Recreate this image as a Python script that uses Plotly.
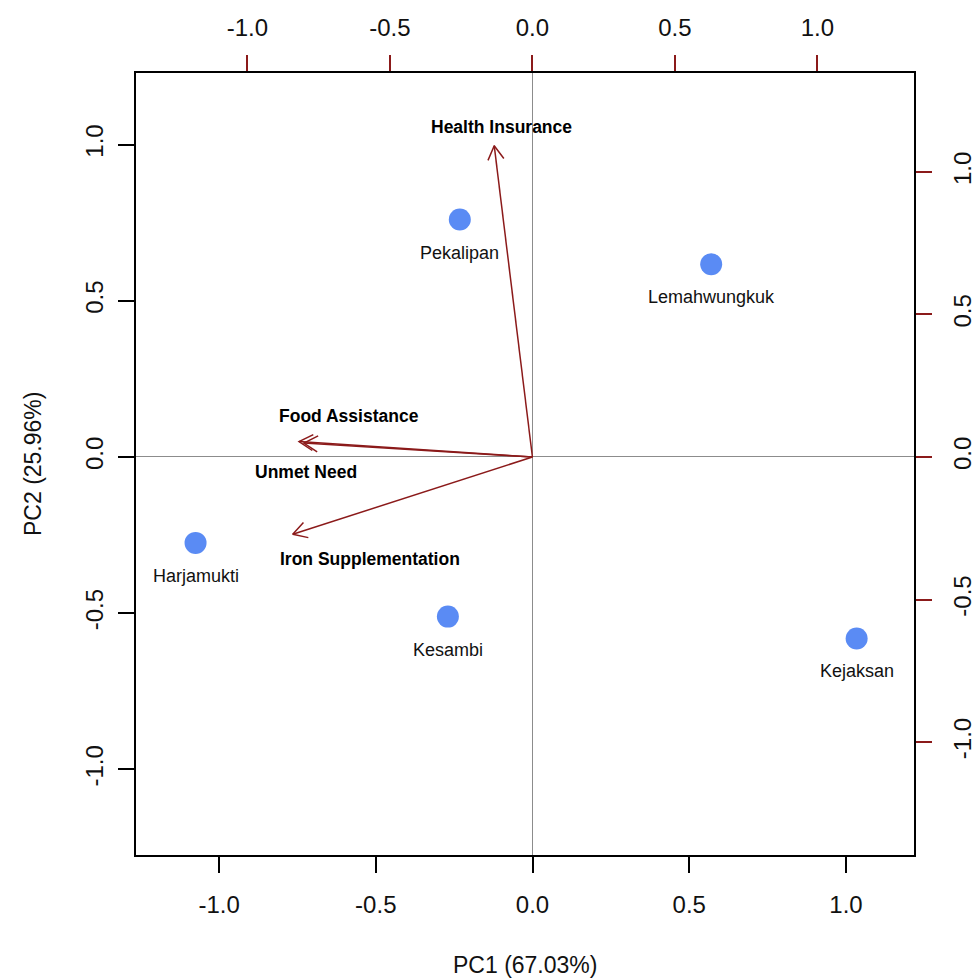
import math
import plotly.graph_objects as go

# Observation scores (PC1, PC2) - primary axes (bottom/left)
districts = ["Pekalipan", "Lemahwungkuk", "Harjamukti", "Kesambi", "Kejaksan"]
pc1_scores = [-0.232, 0.570, -1.075, -0.270, 1.034]
pc2_scores = [0.760, 0.617, -0.275, -0.511, -0.581]

# Variable loadings - secondary axes (top/right)
variables = ["Health Insurance", "Food Assistance", "Unmet Need", "Iron Supplementation"]
load_pc1 = [-0.134, -0.819, -0.802, -0.841]
load_pc2 = [1.092, 0.054, 0.049, -0.271]

# Variable label positions (primary axis units)
label_x = [-0.100, -0.585, -0.722, -0.518]
label_y = [1.056, 0.131, -0.048, -0.326]

tick_vals = [-1.0, -0.5, 0.0, 0.5, 1.0]
tick_text = ["-1.0", "-0.5", "0.0", "0.5", "1.0"]

ARROW = "#8B1A1A"
POINT = "#5A8BF4"
FONT = "Liberation Sans, Arial, Helvetica, sans-serif"

fig = go.Figure()

# arrows on secondary axes
head_len = 0.056
head_ang = math.radians(30)
for vx, vy in zip(load_pc1, load_pc2):
    ang = math.atan2(vy, vx)
    hx1 = vx - head_len * math.cos(ang - head_ang)
    hy1 = vy - head_len * math.sin(ang - head_ang)
    hx2 = vx - head_len * math.cos(ang + head_ang)
    hy2 = vy - head_len * math.sin(ang + head_ang)
    fig.add_trace(go.Scatter(
        x=[0, vx, None, hx1, vx, hx2], y=[0, vy, None, hy1, vy, hy2],
        mode="lines", line=dict(color=ARROW, width=1.5),
        xaxis="x2", yaxis="y2", showlegend=False, hoverinfo="skip"))

# points
fig.add_trace(go.Scatter(
    x=pc1_scores, y=pc2_scores, mode="markers",
    marker=dict(size=22, color=POINT, line=dict(width=0)),
    showlegend=False, hoverinfo="text", text=districts))

annotations = []
for name, x, y in zip(districts, pc1_scores, pc2_scores):
    annotations.append(dict(x=x, y=y, xref="x", yref="y", text=name,
                            showarrow=False, yshift=-33,
                            font=dict(size=18, color="#111111", family=FONT)))
for name, x, y in zip(variables, label_x, label_y):
    annotations.append(dict(x=x, y=y, xref="x", yref="y", text="<b>" + name + "</b>",
                            showarrow=False,
                            font=dict(size=17.5, color="#000000", family=FONT)))

# axis titles
annotations.append(dict(x=0.5, y=0, xref="paper", yref="paper", text="PC1 (67.03%)",
                        showarrow=False, yshift=-110, yanchor="middle",
                        font=dict(size=23, color="#111111", family=FONT)))
annotations.append(dict(x=0, y=0.5, xref="paper", yref="paper", text="PC2 (25.96%)",
                        showarrow=False, xshift=-103, xanchor="center", textangle=-90,
                        font=dict(size=23, color="#111111", family=FONT)))

axis_common = dict(
    tickmode="array", tickvals=tick_vals, ticktext=tick_text,
    showgrid=False, showline=True, linecolor="black", linewidth=1.5,
    ticks="outside", ticklen=16, tickwidth=1.5, automargin=False,
    tickfont=dict(size=24, color="#111111", family=FONT),
)

fig.update_layout(
    width=974, height=979,
    margin=dict(l=136, r=60, t=73, b=124),
    paper_bgcolor="white", plot_bgcolor="white",
    font=dict(family=FONT),
    annotations=annotations,
    xaxis=dict(**axis_common, range=[-1.265, 1.217], tickcolor="black",
               zeroline=True, zerolinecolor="#8c8c8c", zerolinewidth=1.2,
               ticklabelstandoff=11),
    yaxis=dict(**axis_common, range=[-1.274, 1.229], tickcolor="black", tickangle=-90,
               zeroline=True, zerolinecolor="#8c8c8c", zerolinewidth=1.2,
               ticklabelstandoff=6),
    xaxis2=dict(**axis_common, range=[-1.391, 1.339], overlaying="x", side="top",
                tickcolor=ARROW, zeroline=False, ticklabelstandoff=10),
    yaxis2=dict(**axis_common, range=[-1.396, 1.347], overlaying="y", side="right",
                tickcolor=ARROW, tickangle=-90, zeroline=False, ticklabelstandoff=10),
)

fig.write_html(
    "out.html",
    config={"displayModeBar": False},
    post_script="document.body.style.margin='0px';document.body.style.overflow='hidden';",
)
